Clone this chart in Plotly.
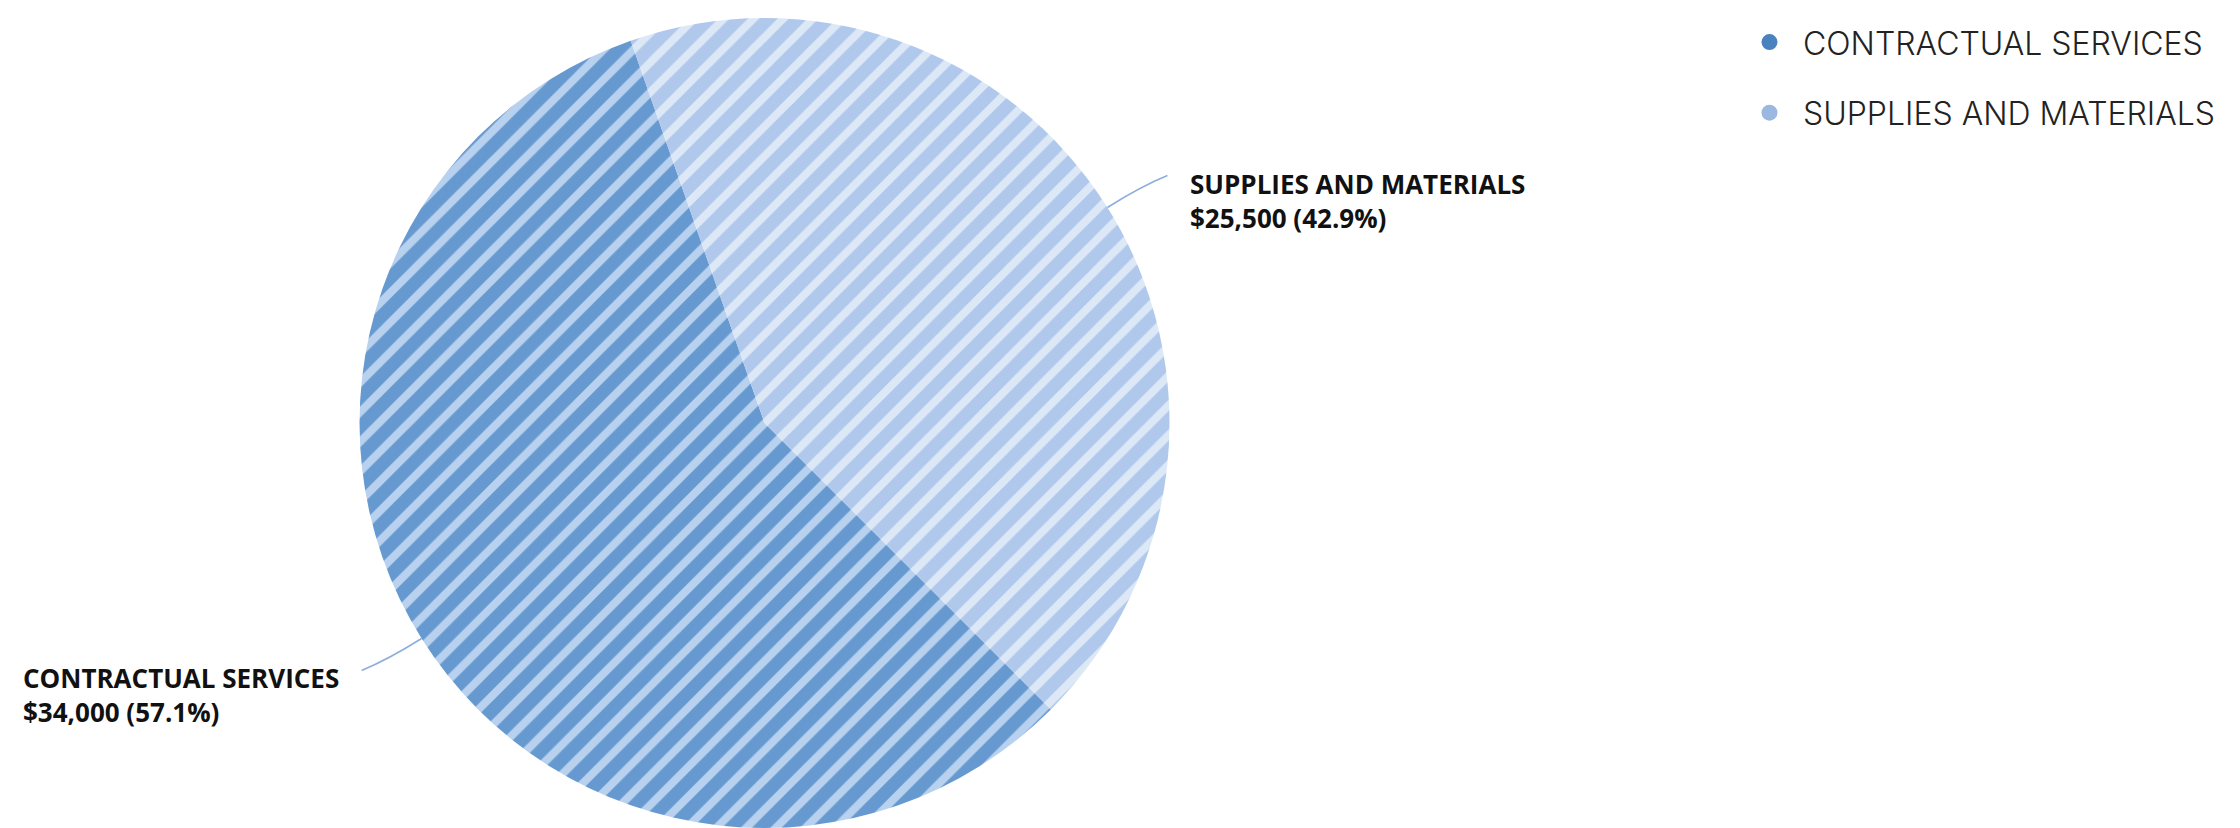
import math
import plotly.graph_objects as go

# Budget split by category
categories = ["CONTRACTUAL SERVICES", "SUPPLIES AND MATERIALS"]
amounts = [34000, 25500]

slice_colors = ["#6699D0", "#AFC8EB"]
stripe_colors = ["#B8D1EE", "#DDE8F7"]
legend_colors = ["#4A81BF", "#9BB8E0"]
connector_color = "#8DAEDD"

W, H = 2240, 828
MT, MB = 18, 0
PH = H - MT - MB
ROTATION = 135
PIE_RIGHT = 0.6826

fig = go.Figure()

fig.add_trace(go.Pie(
    labels=categories,
    values=amounts,
    sort=False,
    direction="clockwise",
    rotation=ROTATION,
    textinfo="none",
    hoverinfo="label+value+percent",
    showlegend=False,
    domain=dict(x=[0, PIE_RIGHT], y=[0, 1]),
    marker=dict(
        colors=slice_colors,
        line=dict(width=0),
        pattern=dict(shape="/", bgcolor=slice_colors, fgcolor=stripe_colors,
                     size=21, solidity=0.38),
    ),
))

# Legend entries drawn as round dots
for name, col in zip(categories, legend_colors):
    fig.add_trace(go.Scatter(
        x=[None], y=[None], mode="markers", name=name,
        legendgroup=name,
        marker=dict(symbol="circle", size=19, color=col),
    ))


def to_paper(px, py):
    return px / W, 1 - (py - MT) / PH


# Outside labels with curved leader lines, placed at each slice's mid-angle
total = sum(amounts)
cx = PIE_RIGHT * W / 2
r = min(PIE_RIGHT * W, PH) / 2
cy = MT + PH / 2
angle = ROTATION
shapes, annotations = [], []
for name, val in zip(categories, amounts):
    span = 360 * val / total
    mid = math.radians(angle + span / 2)
    angle += span
    ux, uy = math.sin(mid), -math.cos(mid)
    sgn = 1 if ux >= 0 else -1
    p = (cx + r * ux, cy + r * uy)
    c = (p[0] + 40 * ux, p[1] + 40 * uy)
    q = (p[0] + 60 * sgn, p[1] + 60 * uy)
    (px0, py0), (pcx, pcy), (pqx, pqy) = to_paper(*p), to_paper(*c), to_paper(*q)
    shapes.append(dict(
        type="path", xref="paper", yref="paper",
        path=f"M {px0},{py0} Q {pcx},{pcy} {pqx},{pqy}",
        line=dict(color=connector_color, width=1.6),
    ))
    pct = 100 * val / total
    tx, ty = to_paper(q[0] + 21 * sgn, q[1] - 12)
    annotations.append(dict(
        xref="paper", yref="paper", x=tx, y=ty,
        xanchor="left" if sgn > 0 else "right", yanchor="top",
        align="left", showarrow=False,
        text=f"<b>{name}</b><br><b>${val:,} ({pct:.1f}%)</b>",
        font=dict(family="Open Sans", size=26, color="#111111"),
    ))

fig.update_layout(
    width=W, height=H,
    margin=dict(l=0, r=0, t=MT, b=MB, autoexpand=False),
    paper_bgcolor="white", plot_bgcolor="white",
    xaxis=dict(visible=False), yaxis=dict(visible=False),
    shapes=shapes, annotations=annotations,
    legend=dict(
        x=0.775, y=1.004, xanchor="left", yanchor="top",
        traceorder="grouped", tracegroupgap=26, itemwidth=57,
        font=dict(family="Inter", size=32, color="#222222", weight=300),
        itemclick=False, itemdoubleclick=False,
        bgcolor="rgba(0,0,0,0)",
    ),
    showlegend=True,
)

fig.write_html("out.html")
